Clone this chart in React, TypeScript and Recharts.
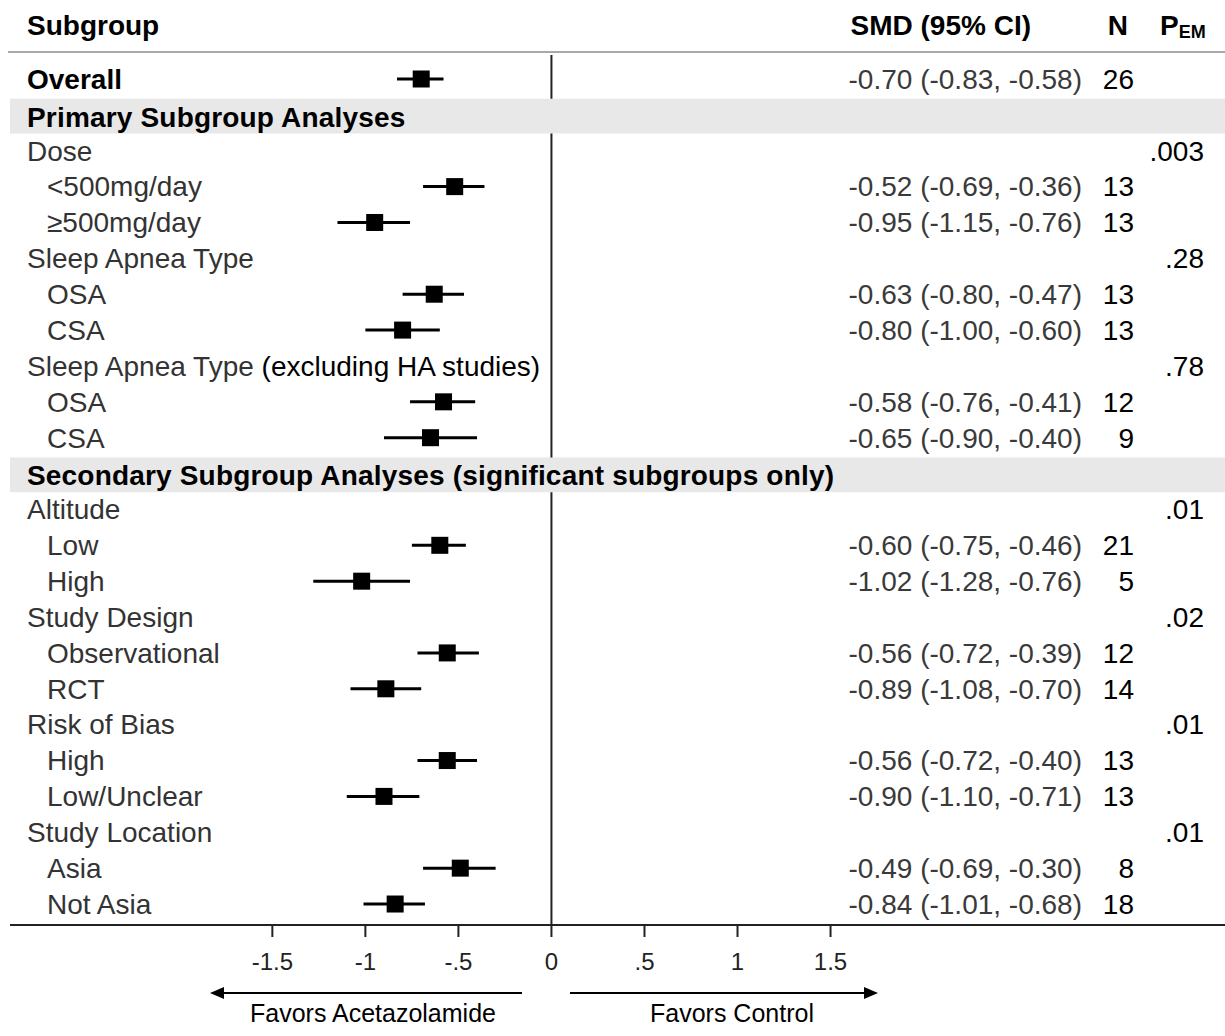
import { ScatterChart, Scatter, XAxis, YAxis, ErrorBar, ReferenceLine, Customized } from 'recharts';

// One entry per row, top to bottom
const labels = [
  'Overall',
  'Primary Subgroup Analyses',
  'Dose',
  '<500mg/day',
  '≥500mg/day',
  'Sleep Apnea Type',
  'OSA',
  'CSA',
  'Sleep Apnea Type',
  'OSA',
  'CSA',
  'Secondary Subgroup Analyses (significant subgroups only)',
  'Altitude',
  'Low',
  'High',
  'Study Design',
  'Observational',
  'RCT',
  'Risk of Bias',
  'High',
  'Low/Unclear',
  'Study Location',
  'Asia',
  'Not Asia',
];

const kinds = [
  'overall', 'section', 'group', 'item', 'item', 'group', 'item', 'item', 'group', 'item', 'item',
  'section', 'group', 'item', 'item', 'group', 'item', 'item', 'group', 'item', 'item', 'group', 'item', 'item',
];

const labelNotes: (string | null)[] = [
  null, null, null, null, null, null, null, null, '(excluding HA studies)', null, null,
  null, null, null, null, null, null, null, null, null, null, null, null, null,
];

const smd: (number | null)[] = [
  -0.7, null, null, -0.52, -0.95, null, -0.63, -0.8, null, -0.58, -0.65,
  null, null, -0.6, -1.02, null, -0.56, -0.89, null, -0.56, -0.9, null, -0.49, -0.84,
];

const ciLow: (number | null)[] = [
  -0.83, null, null, -0.69, -1.15, null, -0.8, -1.0, null, -0.76, -0.9,
  null, null, -0.75, -1.28, null, -0.72, -1.08, null, -0.72, -1.1, null, -0.69, -1.01,
];

const ciHigh: (number | null)[] = [
  -0.58, null, null, -0.36, -0.76, null, -0.47, -0.6, null, -0.41, -0.4,
  null, null, -0.46, -0.76, null, -0.39, -0.7, null, -0.4, -0.71, null, -0.3, -0.68,
];

const nStudies: (number | null)[] = [
  26, null, null, 13, 13, null, 13, 13, null, 12, 9,
  null, null, 21, 5, null, 12, 14, null, 13, 13, null, 8, 18,
];

const pInteraction: (string | null)[] = [
  null, null, '.003', null, null, '.28', null, null, '.78', null, null,
  null, '.01', null, null, '.02', null, null, '.01', null, null, '.01', null, null,
];

const xTicks = [-1.5, -1, -0.5, 0, 0.5, 1, 1.5];

const FONT = '"Liberation Sans", Arial, Helvetica, sans-serif';
const W = 1225;
const H = 1036;
const MARGIN = { top: 55, right: 0, bottom: 0, left: 10 };
const X_AXIS_H = 111;
const X_DOMAIN: [number, number] = [-2.91, 3.62];
const Y_DOMAIN: [number, number] = [-0.669, 23.585];
const BAND_UP = 0.45;
const BAND_DOWN = 0.52;

const points = smd
  .map((v, k) =>
    v === null
      ? null
      : { x: v, y: k, ci: [v - (ciLow[k] as number), (ciHigh[k] as number) - v] }
  )
  .filter(Boolean);

const sectionRows = kinds.map((t, k) => (t === 'section' ? k : -1)).filter((k) => k >= 0);

// zero line pieces that leave the shaded section bands clear
const zeroSegments: [number, number][] = [];
{
  let from = Y_DOMAIN[0];
  sectionRows.forEach((k) => {
    zeroSegments.push([from, k - BAND_UP]);
    from = k + BAND_DOWN;
  });
  zeroSegments.push([from, Y_DOMAIN[1]]);
}

// same linear mapping the y axis uses (reversed, plot top to bottom)
const plotTop = MARGIN.top;
const plotH = H - MARGIN.top - MARGIN.bottom - X_AXIS_H;
const rowY = (k: number) => plotTop + ((k - Y_DOMAIN[0]) / (Y_DOMAIN[1] - Y_DOMAIN[0])) * plotH;

const fmt = (v: number) => v.toFixed(2);

const tickText = (v: number) => {
  if (v === 0) return '0';
  const s = String(Math.abs(v)).replace(/^0\./, '.');
  return v < 0 ? `-${s}` : s;
};

function RowText({ k }: { k: number }) {
  const kind = kinds[k];
  const bold = kind === 'overall' || kind === 'section';
  const y = rowY(k) + (kind === 'section' ? 2 : 0);
  const lx = kind === 'item' ? 47 : 27;
  const est = smd[k];
  return (
    <g>
      <text
        x={lx}
        y={y}
        dy="0.35em"
        fontWeight={bold ? 700 : 400}
        fill={bold ? '#000' : '#333'}
        letterSpacing={kind === 'section' ? 0.18 : 0}
      >
        {labels[k]}
        {labelNotes[k] && <tspan fill="#000">{' ' + labelNotes[k]}</tspan>}
      </text>
      {est !== null && (
        <text x={1082} y={y} dy="0.35em" textAnchor="end" fill="#3a3a3a">
          {`${fmt(est)} (${fmt(ciLow[k] as number)}, ${fmt(ciHigh[k] as number)})`}
        </text>
      )}
      {nStudies[k] !== null && (
        <text x={1134} y={y} dy="0.35em" textAnchor="end" fill="#000">
          {nStudies[k]}
        </text>
      )}
      {pInteraction[k] && (
        <text x={1204} y={y} dy="0.35em" textAnchor="end" fill="#000">
          {pInteraction[k]}
        </text>
      )}
    </g>
  );
}

function Square(props: any) {
  const { cx, cy } = props;
  const s = 17;
  return <rect x={cx - s / 2} y={cy - s / 2} width={s} height={s} fill="#000" />;
}

function Decor() {
  return (
    <g fontFamily={FONT}>
      {/* shaded section bands */}
      {sectionRows.map((k) => (
        <rect
          key={k}
          x={MARGIN.left}
          y={rowY(k - BAND_UP)}
          width={W - MARGIN.left}
          height={rowY(k + BAND_DOWN) - rowY(k - BAND_UP)}
          fill="#e8e8e8"
        />
      ))}

      {/* column headers */}
      <g fontSize={28} fontWeight={700} fill="#000">
        <text x={27} y={35}>Subgroup</text>
        <text x={1031} y={35} textAnchor="end">SMD (95% CI)</text>
        <text x={1128} y={35} textAnchor="end">N</text>
        <text x={1160} y={35}>
          P<tspan fontSize={18} dy={3}>EM</tspan>
        </text>
      </g>
      <line x1={8} x2={W} y1={52} y2={52} stroke="#a8a8a8" strokeWidth={2} />

      {/* row labels, estimates, study counts, interaction p-values */}
      <g fontSize={28}>
        {labels.map((_, k) => (
          <RowText key={k} k={k} />
        ))}
      </g>

      {/* direction arrows */}
      <g stroke="#000" strokeWidth={2}>
        <line x1={220} x2={522} y1={993} y2={993} />
        <line x1={570} x2={868} y1={993} y2={993} />
      </g>
      <polygon points="210,993 224,987 224,999" fill="#000" />
      <polygon points="878,993 864,987 864,999" fill="#000" />
      <g fontSize={25} fill="#000" textAnchor="middle">
        <text x={373} y={1022}>Favors Acetazolamide</text>
        <text x={732} y={1022}>Favors Control</text>
      </g>
    </g>
  );
}

export default function App() {
  return (
    <div style={{ position: 'absolute', left: 0, top: 0, background: '#fff' }}>
      <ScatterChart width={W} height={H} margin={MARGIN}>
        <Customized component={Decor} />
        {zeroSegments.map(([a, b]) => (
          <ReferenceLine
            key={a}
            segment={[
              { x: 0, y: a },
              { x: 0, y: b },
            ]}
            stroke="#222"
            strokeWidth={2}
          />
        ))}
        <XAxis
          type="number"
          dataKey="x"
          domain={X_DOMAIN}
          ticks={xTicks}
          tickFormatter={tickText}
          height={X_AXIS_H}
          axisLine={{ stroke: '#222', strokeWidth: 2 }}
          tickLine={{ stroke: '#222', strokeWidth: 2 }}
          tickSize={12}
          tickMargin={16}
          tick={{ fontSize: 24, fill: '#222', fontFamily: FONT }}
          interval={0}
        />
        <YAxis type="number" dataKey="y" domain={Y_DOMAIN} reversed hide />
        <Scatter data={points as any[]} shape={<Square />} isAnimationActive={false}>
          <ErrorBar dataKey="ci" direction="x" width={0} stroke="#000" strokeWidth={3} />
        </Scatter>
      </ScatterChart>
    </div>
  );
}
